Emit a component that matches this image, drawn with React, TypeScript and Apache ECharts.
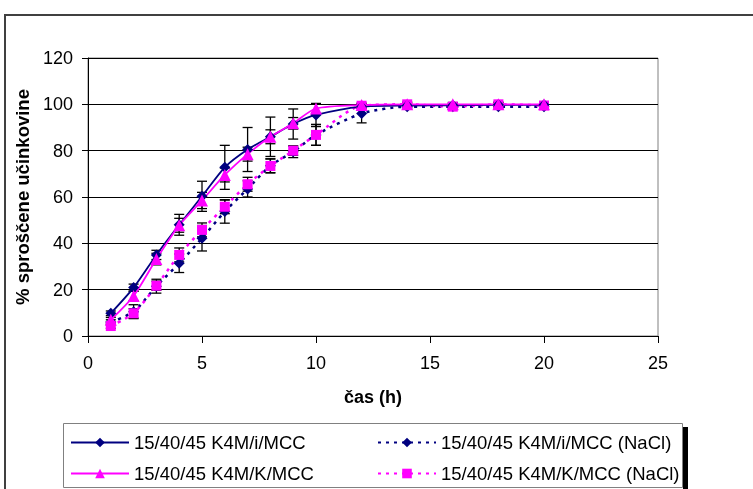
import React, { useEffect, useRef } from "react";
import * as echarts from "echarts";

const hours = [1, 2, 3, 4, 5, 6, 7, 8, 9, 10, 12, 14, 16, 18, 20];
const seriesNames = [
  "15/40/45 K4M/i/MCC",
  "15/40/45 K4M/K/MCC",
  "15/40/45 K4M/i/MCC (NaCl)",
  "15/40/45 K4M/K/MCC (NaCl)",
];
const iMcc = [9.8, 20.9, 35.0, 48.0, 60.3, 72.8, 80.5, 86.0, 91.5, 95.4, 99.0, 99.5, 99.6, 99.8, 99.8];
const iMccSd = [1.0, 1.5, 2.0, 4.5, 6.5, 9.5, 9.5, 8.5, 6.5, 5.0, 0.8, 0.8, 0.8, 0.8, 0.8];
const kMcc = [7.0, 17.3, 33.2, 47.8, 58.5, 69.5, 78.5, 86.0, 91.8, 98.2, 99.7, 100.0, 100.0, 100.0, 100.0];
const kMccSd = [1.0, 2.0, 2.5, 3.0, 3.5, 3.0, 3.0, 3.0, 2.5, 2.0, 0.8, 0.8, 0.8, 0.8, 0.8];
const iMccNaCl = [6.0, 10.5, 21.5, 31.4, 42.2, 53.7, 63.5, 73.5, 79.5, 86.8, 96.0, 99.0, 99.0, 99.0, 99.0];
const iMccNaClSd = [1.0, 3.0, 3.0, 4.0, 5.5, 5.0, 3.5, 3.0, 2.5, 4.5, 4.0, 1.0, 1.0, 1.0, 1.0];
const kMccNaCl = [4.3, 9.8, 21.7, 35.0, 45.8, 55.8, 65.5, 73.4, 80.0, 86.8, 99.4, 100.0, 99.0, 100.0, 99.5];
const kMccNaClSd = [1.0, 2.0, 2.0, 3.0, 3.0, 3.0, 3.0, 3.0, 2.0, 4.5, 1.0, 1.0, 1.0, 1.0, 1.0];
const xTicks = [0, 5, 10, 15, 20, 25];
const yTicks = [0, 20, 40, 60, 80, 100, 120];

const FONT = "Liberation Sans, Arial, sans-serif";
const NAVY = "#000080";
const MAGENTA = "#FF00FF";

export default function App() {
  const ref = useRef<HTMLDivElement>(null);
  useEffect(() => {
    if (!ref.current) return;
    const chart = echarts.init(ref.current, null, { renderer: "svg" });
    const pairs = (vals: number[]) => hours.map((h, i) => [h, vals[i]]);
    const errData: number[][] = [];
    const allVals = [iMcc, kMcc, iMccNaCl, kMccNaCl];
    const allSd = [iMccSd, kMccSd, iMccNaClSd, kMccNaClSd];
    allVals.forEach((vals, s) => {
      hours.forEach((h, i) => {
        errData.push([h, vals[i] - allSd[s][i], vals[i] + allSd[s][i]]);
      });
    });
    const lineBase = (name: string, data: number[], color: string, symbol: string, size: number, dashed: boolean) => ({
      type: "line",
      name,
      data: pairs(data),
      smooth: 0.25,
      symbol,
      symbolSize: size,
      z: 3,
      itemStyle: { color },
      lineStyle: { color, width: dashed ? 2.5 : 1.8, type: dashed ? [3, 5] : "solid" },
    });
    const legendText = { fontSize: 18.5, color: "#000", fontFamily: FONT };
    chart.setOption({
      animation: false,
      textStyle: { fontFamily: FONT },
      grid: { left: 88, right: 95, top: 58, bottom: 153, show: true, borderColor: "#808080", borderWidth: 1 },
      xAxis: {
        type: "value",
        min: xTicks[0],
        max: xTicks[xTicks.length - 1],
        interval: 5,
        name: "čas (h)",
        nameLocation: "middle",
        nameGap: 52,
        nameTextStyle: { fontSize: 18, fontWeight: "bold", color: "#000", fontFamily: FONT },
        axisLine: { lineStyle: { color: "#000", width: 1 } },
        axisTick: { show: true, length: 7, lineStyle: { color: "#000" } },
        axisLabel: { fontSize: 18, color: "#000", margin: 18, fontFamily: FONT },
        splitLine: { show: false },
      },
      yAxis: {
        type: "value",
        min: yTicks[0],
        max: yTicks[yTicks.length - 1],
        interval: 20,
        name: "% sproščene učinkovine",
        nameLocation: "middle",
        nameGap: 55,
        nameTextStyle: { fontSize: 18.5, fontWeight: "bold", color: "#000", fontFamily: FONT },
        axisLine: { show: true, lineStyle: { color: "#000", width: 1 } },
        axisTick: { show: true, length: 6, lineStyle: { color: "#000" } },
        axisLabel: { fontSize: 18, color: "#000", margin: 15, fontFamily: FONT },
        splitLine: { show: true, lineStyle: { color: "#000", width: 1 } },
      },
      legend: [
        {
          left: 65,
          top: 428,
          orient: "vertical",
          itemWidth: 58,
          itemHeight: 12,
          itemGap: 12,
          data: [seriesNames[0], seriesNames[1]],
          textStyle: legendText,
        },
        {
          left: 372,
          top: 428,
          orient: "vertical",
          itemWidth: 58,
          itemHeight: 12,
          itemGap: 12,
          data: [seriesNames[2], seriesNames[3]],
          textStyle: legendText,
        },
      ],
      graphic: [
        { type: "rect", z: -10, shape: { x: 5, y: 15, width: 900, height: 700 }, style: { fill: "#fff", stroke: "#404040", lineWidth: 2 } },
        { type: "rect", z: -5, shape: { x: 683, y: 427, width: 5, height: 70 }, style: { fill: "#000" } },
        { type: "rect", z: -4, shape: { x: 63.5, y: 423.5, width: 619, height: 64 }, style: { fill: "#fff", stroke: "#808080", lineWidth: 1 } },
      ],
      series: [
        {
          type: "custom",
          name: "err",
          z: 2,
          encode: { x: 0, y: [1, 2] },
          data: errData,
          renderItem: (params: any, api: any) => {
            const x = api.value(0);
            const lo = api.coord([x, api.value(1)]);
            const hi = api.coord([x, api.value(2)]);
            const w = 5;
            const st = { stroke: "#000", lineWidth: 1.3 };
            return {
              type: "group",
              children: [
                { type: "line", shape: { x1: lo[0], y1: lo[1], x2: hi[0], y2: hi[1] }, style: st },
                { type: "line", shape: { x1: lo[0] - w, y1: lo[1], x2: lo[0] + w, y2: lo[1] }, style: st },
                { type: "line", shape: { x1: hi[0] - w, y1: hi[1], x2: hi[0] + w, y2: hi[1] }, style: st },
              ],
            };
          },
        },
        lineBase(seriesNames[2], iMccNaCl, NAVY, "diamond", 11, true),
        lineBase(seriesNames[3], kMccNaCl, MAGENTA, "rect", 10, true),
        lineBase(seriesNames[0], iMcc, NAVY, "diamond", 11, false),
        lineBase(seriesNames[1], kMcc, MAGENTA, "triangle", 12, false),
      ],
    });
    return () => chart.dispose();
  }, []);
  return <div ref={ref} style={{ position: "fixed", left: 0, top: 0, width: 753, height: 489 }} />;
}
